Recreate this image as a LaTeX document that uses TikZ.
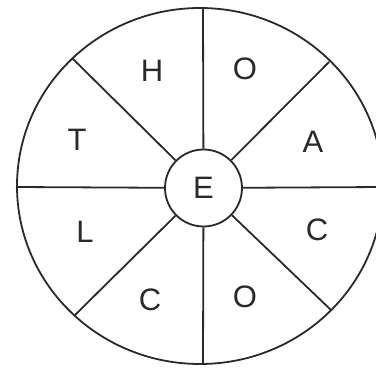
\documentclass[tikz,border=0pt]{standalone}
\usepackage{fontspec}
\setmainfont{Liberation Sans}
\definecolor{ink}{HTML}{2A2A2A}
\begin{document}
\begin{tikzpicture}[x=1pt,y=-1pt,
  rim/.style={draw=ink,line width=1.8pt},
  spoke/.style={draw=ink,line width=1.8pt},
  letter/.style={text=ink,font=\fontsize{31}{35}\selectfont,inner sep=0pt},
  hub/.style={circle,draw=ink,line width=1.8pt,fill=white,minimum size=77pt,inner sep=0pt,text=ink,font=\fontsize{31}{35}\selectfont}]
\useasboundingbox (0,0) rectangle (376,369);
\fill[white] (0,0) rectangle (376,369);
\node[hub] (E) at (203.5,188) {E};
\coordinate (oN) at (203,8);
\coordinate (oS) at (203,364);
\coordinate (oW) at (16,187);
\coordinate (oE) at (383,187);
\coordinate (oNW) at (72,58);
\coordinate (oNE) at (329,62);
\coordinate (oSE) at (331,310);
\coordinate (oSW) at (75,315);
\foreach \p in {oN,oS,oW,oE,oNW,oNE,oSE,oSW} \draw[spoke] (E) -- (\p);
\draw[rim] (200,186) ellipse [x radius=183pt, y radius=178pt];
\node[letter] (h) at (152,71) {H};
\node[letter] (o1) at (245,69) {O};
\node[letter] (t) at (77,140) {T};
\node[letter] (a) at (313,142) {A};
\node[letter] (l) at (85,232) {L};
\node[letter] (c1) at (317,230) {C};
\node[letter] (c2) at (150,300) {C};
\node[letter] (o2) at (245,297) {O};
\end{tikzpicture}
\end{document}
